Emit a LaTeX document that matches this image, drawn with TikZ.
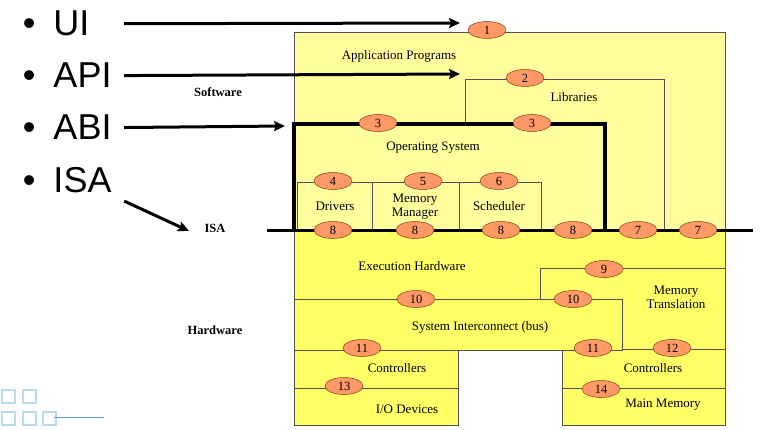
\documentclass[tikz,border=0pt]{standalone}
\usepackage{fontspec}
\setmainfont{Liberation Serif}
\newfontfamily\slidefont{Liberation Sans}
\usepackage{tikz}
\usepackage{xcolor}
\usetikzlibrary{positioning, arrows.meta}
\usetikzlibrary{shapes}

\definecolor{swfill}{HTML}{FFFF9E}
\definecolor{hwfill}{HTML}{FFFF66}
\definecolor{tagfill}{HTML}{FF9966}
\definecolor{tagline}{HTML}{8B3A1A}
\definecolor{boxline}{HTML}{505050}
\definecolor{decoblue}{HTML}{B9DCEA}
\definecolor{decoline}{HTML}{5B9BD5}

\begin{document}
\begin{tikzpicture}[x=1pt, y=-1pt,
        tag/.style={ellipse, draw=tagline, line width=0.5pt, fill=tagfill, minimum width=38pt, minimum height=17pt, inner sep=0pt, font=\fontsize{12.5}{12.5}\selectfont},
        lbl/.style={align=center, font=\fontsize{13}{14}\selectfont},
        side/.style={font=\fontsize{12.5}{13}\selectfont\bfseries},
        bullet/.style={anchor=base west, font=\slidefont\fontsize{36}{36}\selectfont},
        ptr/.style={-{Stealth[length=11pt, width=10pt, inset=2pt]}, line width=3pt},
        thin/.style={draw=boxline, line width=0.6pt},
        thick/.style={line width=3.2pt, line cap=rect}]
            \useasboundingbox (0,0) rectangle (767,430);

            % layer fills
            \fill[swfill] (294,32) rectangle (725,230);
            \fill[hwfill] (294,230) -| (725,425) -| (562,350) -| (458,425) -| cycle;

            % box outlines
            \draw[thin] (294,32) -| (725,425) -| (562,350) -| (458,425) -| cycle;
            \draw[thin] (465,124) |- (664,79) -- (664,230);
            \draw[thin] (297,230) |- (541,182) -- (541,230);
            \draw[thin] (372,182) -- (372,230);
            \draw[thin] (459,182) -- (459,230);
            \draw[thin] (540,299) |- (725,268);
            \draw[thin] (622,349) -- (725,349);
            \draw[thin] (294,299) -| (622,350) -- (294,350);
            \draw[thin] (294,388) -- (458,388);
            \draw[thin] (562,388) -- (725,388);
            \draw[thick] (294,230) |- (605,124) -- (605,230);

            \coordinate (isaL) at (267,230);
            \coordinate (isaR) at (753,230);
            \draw[line width=3pt] (isaL) -- (isaR);

            % bullets
            \node[bullet] (ui) at (50,36) {\llap{\textbullet\hspace{18pt}}UI};
            \node[bullet] (api) at (50,88) {\llap{\textbullet\hspace{18pt}}API};
            \node[bullet] (abi) at (50,140) {\llap{\textbullet\hspace{18pt}}ABI};
            \node[bullet] (isa) at (50,193) {\llap{\textbullet\hspace{18pt}}ISA};

            \coordinate (uiTip) at (460,23);
            \coordinate (apiTip) at (460,74);
            \coordinate (abiTip) at (285,126);
            \coordinate (isaTip) at (189,231);
            \draw[ptr, shorten <=31pt] (ui.east) -- (uiTip);
            \draw[ptr, shorten <=9pt] (api.east) -- (apiTip);
            \draw[ptr, shorten <=9pt] (abi.east) -- (abiTip);
            \draw[ptr, shorten <=10pt] (isa.south east) -- (isaTip);

            % side labels
            \node[side] (sw) at (218,92) {Software};
            \node[side] (isaLbl) at (215,228) {ISA};
            \node[side] (hw) at (215,330) {Hardware};

            % layer names
            \node[lbl] (app) at (399,56) {Application Programs};
            \node[lbl] (lib) at (574,97) {Libraries};
            \node[lbl] (os) at (433,148) {Operating System};
            \node[lbl] (drv) at (335,206) {Drivers};
            \node[lbl] (mm) at (415,207) {Memory\\Manager};
            \node[lbl] (sch) at (499,206) {Scheduler};
            \node[lbl] (exe) at (412,266) {Execution Hardware};
            \node[lbl] (mt) at (676,297) {Memory\\Translation};
            \node[lbl] (bus) at (480,327) {System Interconnect (bus)};
            \node[lbl] (ctlL) at (397,368) {Controllers};
            \node[lbl] (io) at (407,409) {I/O Devices};
            \node[lbl] (ctlR) at (653,368) {Controllers};
            \node[lbl] (mem) at (663,405) {Main Memory};

            % interface tags
            \node[tag] (e1) at (487,30) {1};
            \node[tag] (e2) at (525,78) {2};
            \node[tag] (e3a) at (378,123) {3};
            \node[tag] (e3b) at (532,123) {3};
            \node[tag] (e4) at (333,181) {4};
            \node[tag] (e5) at (423,181) {5};
            \node[tag] (e6) at (499,181) {6};
            \node[tag] (e8a) at (333,230) {8};
            \node[tag] (e8b) at (415,230) {8};
            \node[tag] (e8c) at (501,230) {8};
            \node[tag] (e8d) at (573,230) {8};
            \node[tag] (e7a) at (638,230) {7};
            \node[tag] (e7b) at (698,230) {7};
            \node[tag] (e9) at (604,269) {9};
            \node[tag] (e10a) at (416,299) {10};
            \node[tag] (e10b) at (573,299) {10};
            \node[tag] (e11a) at (362,348) {11};
            \node[tag] (e11b) at (593,348) {11};
            \node[tag] (e12) at (672,348) {12};
            \node[tag] (e13) at (344,386) {13};
            \node[tag] (e14) at (601,389) {14};

            % slide corner
            \foreach \x/\y in {2/390, 23/390, 2/412, 23/412, 43/412}
                \draw[decoblue, line width=1.4pt] (\x,\y) rectangle ++(13,13);
            \draw[decoline, line width=0.8pt] (54,417) -- (104,417);
        \end{tikzpicture}
\end{document}
